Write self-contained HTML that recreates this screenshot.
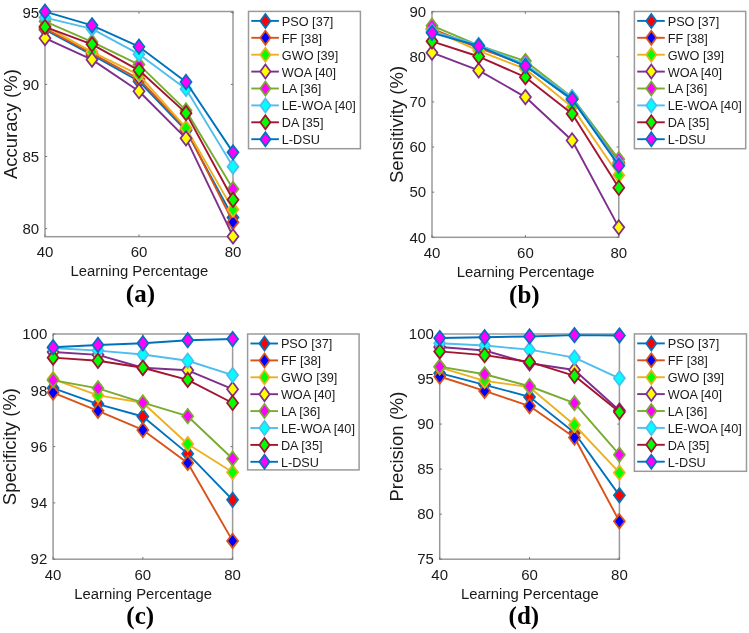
<!DOCTYPE html>
<html><head><meta charset="utf-8"><title>Performance comparison</title>
<style>
html,body{margin:0;padding:0;background:#fff;}
body{width:749px;height:633px;overflow:hidden;}
svg{display:block;will-change:transform;font-family:"Liberation Sans",sans-serif;}
</style></head><body>
<svg width="749" height="633" viewBox="0 0 749 633">
<rect width="749" height="633" fill="#fff"/>
<rect x="45" y="11.5" width="188" height="225.2" fill="none" stroke="#9a9a9a" stroke-width="1.5"/>
<path d="M45 228.63h2.2M233 228.63h-2.2M45 156.54h2.2M233 156.54h-2.2M45 84.45h2.2M233 84.45h-2.2M45 12.37h2.2M233 12.37h-2.2M45 236.7v-2.2M45 11.5v2.2M139 236.7v-2.2M139 11.5v2.2M233 236.7v-2.2M233 11.5v2.2" stroke="#777" stroke-width="1" fill="none"/>
<path d="M45 29.67L92 54.9L139 81.28L186 130.59L233 217.52" fill="none" stroke="#0072BD" stroke-width="1.9" stroke-linejoin="round"/>
<path d="M45 22.47L50.5 29.67L45 36.87L39.5 29.67Z" fill="#FF0000" stroke="#0072BD" stroke-width="1.75" stroke-linejoin="miter" stroke-miterlimit="10"/>
<path d="M92 47.7L97.5 54.9L92 62.1L86.5 54.9Z" fill="#FF0000" stroke="#0072BD" stroke-width="1.75" stroke-linejoin="miter" stroke-miterlimit="10"/>
<path d="M139 74.08L144.5 81.28L139 88.48L133.5 81.28Z" fill="#FF0000" stroke="#0072BD" stroke-width="1.75" stroke-linejoin="miter" stroke-miterlimit="10"/>
<path d="M186 123.39L191.5 130.59L186 137.79L180.5 130.59Z" fill="#FF0000" stroke="#0072BD" stroke-width="1.75" stroke-linejoin="miter" stroke-miterlimit="10"/>
<path d="M233 210.32L238.5 217.52L233 224.72L227.5 217.52Z" fill="#FF0000" stroke="#0072BD" stroke-width="1.75" stroke-linejoin="miter" stroke-miterlimit="10"/>
<path d="M45 28.51L92 53.45L139 78.97L186 129.15L233 222.14" fill="none" stroke="#D95319" stroke-width="1.9" stroke-linejoin="round"/>
<path d="M45 21.31L50.5 28.51L45 35.71L39.5 28.51Z" fill="#0000FF" stroke="#D95319" stroke-width="1.75" stroke-linejoin="miter" stroke-miterlimit="10"/>
<path d="M92 46.25L97.5 53.45L92 60.65L86.5 53.45Z" fill="#0000FF" stroke="#D95319" stroke-width="1.75" stroke-linejoin="miter" stroke-miterlimit="10"/>
<path d="M139 71.77L144.5 78.97L139 86.17L133.5 78.97Z" fill="#0000FF" stroke="#D95319" stroke-width="1.75" stroke-linejoin="miter" stroke-miterlimit="10"/>
<path d="M186 121.95L191.5 129.15L186 136.35L180.5 129.15Z" fill="#0000FF" stroke="#D95319" stroke-width="1.75" stroke-linejoin="miter" stroke-miterlimit="10"/>
<path d="M233 214.94L238.5 222.14L233 229.34L227.5 222.14Z" fill="#0000FF" stroke="#D95319" stroke-width="1.75" stroke-linejoin="miter" stroke-miterlimit="10"/>
<path d="M45 26.06L92 51.87L139 74.94L186 127.99L233 209.6" fill="none" stroke="#EDB120" stroke-width="1.9" stroke-linejoin="round"/>
<path d="M45 18.86L50.5 26.06L45 33.26L39.5 26.06Z" fill="#00FF00" stroke="#EDB120" stroke-width="1.75" stroke-linejoin="miter" stroke-miterlimit="10"/>
<path d="M92 44.67L97.5 51.87L92 59.07L86.5 51.87Z" fill="#00FF00" stroke="#EDB120" stroke-width="1.75" stroke-linejoin="miter" stroke-miterlimit="10"/>
<path d="M139 67.74L144.5 74.94L139 82.14L133.5 74.94Z" fill="#00FF00" stroke="#EDB120" stroke-width="1.75" stroke-linejoin="miter" stroke-miterlimit="10"/>
<path d="M186 120.79L191.5 127.99L186 135.19L180.5 127.99Z" fill="#00FF00" stroke="#EDB120" stroke-width="1.75" stroke-linejoin="miter" stroke-miterlimit="10"/>
<path d="M233 202.4L238.5 209.6L233 216.8L227.5 209.6Z" fill="#00FF00" stroke="#EDB120" stroke-width="1.75" stroke-linejoin="miter" stroke-miterlimit="10"/>
<path d="M45 38.17L92 59.65L139 91.23L186 138.37L233 236.41" fill="none" stroke="#7E2F8E" stroke-width="1.9" stroke-linejoin="round"/>
<path d="M45 30.97L50.5 38.17L45 45.37L39.5 38.17Z" fill="#FFFF00" stroke="#7E2F8E" stroke-width="1.75" stroke-linejoin="miter" stroke-miterlimit="10"/>
<path d="M92 52.45L97.5 59.65L92 66.85L86.5 59.65Z" fill="#FFFF00" stroke="#7E2F8E" stroke-width="1.75" stroke-linejoin="miter" stroke-miterlimit="10"/>
<path d="M139 84.03L144.5 91.23L139 98.43L133.5 91.23Z" fill="#FFFF00" stroke="#7E2F8E" stroke-width="1.75" stroke-linejoin="miter" stroke-miterlimit="10"/>
<path d="M186 131.17L191.5 138.37L186 145.57L180.5 138.37Z" fill="#FFFF00" stroke="#7E2F8E" stroke-width="1.75" stroke-linejoin="miter" stroke-miterlimit="10"/>
<path d="M233 229.21L238.5 236.41L233 243.61L227.5 236.41Z" fill="#FFFF00" stroke="#7E2F8E" stroke-width="1.75" stroke-linejoin="miter" stroke-miterlimit="10"/>
<path d="M45 21.3L92 41.92L139 64.56L186 110.4L233 188.98" fill="none" stroke="#77AC30" stroke-width="1.9" stroke-linejoin="round"/>
<path d="M45 14.1L50.5 21.3L45 28.5L39.5 21.3Z" fill="#FF00FF" stroke="#77AC30" stroke-width="1.75" stroke-linejoin="miter" stroke-miterlimit="10"/>
<path d="M92 34.72L97.5 41.92L92 49.12L86.5 41.92Z" fill="#FF00FF" stroke="#77AC30" stroke-width="1.75" stroke-linejoin="miter" stroke-miterlimit="10"/>
<path d="M139 57.36L144.5 64.56L139 71.76L133.5 64.56Z" fill="#FF00FF" stroke="#77AC30" stroke-width="1.75" stroke-linejoin="miter" stroke-miterlimit="10"/>
<path d="M186 103.2L191.5 110.4L186 117.6L180.5 110.4Z" fill="#FF00FF" stroke="#77AC30" stroke-width="1.75" stroke-linejoin="miter" stroke-miterlimit="10"/>
<path d="M233 181.78L238.5 188.98L233 196.18L227.5 188.98Z" fill="#FF00FF" stroke="#77AC30" stroke-width="1.75" stroke-linejoin="miter" stroke-miterlimit="10"/>
<path d="M45 17.56L92 28.95L139 54.18L186 88.92L233 166.63" fill="none" stroke="#4DBEEE" stroke-width="1.9" stroke-linejoin="round"/>
<path d="M45 10.36L50.5 17.56L45 24.76L39.5 17.56Z" fill="#00FFFF" stroke="#4DBEEE" stroke-width="1.75" stroke-linejoin="miter" stroke-miterlimit="10"/>
<path d="M92 21.75L97.5 28.95L92 36.15L86.5 28.95Z" fill="#00FFFF" stroke="#4DBEEE" stroke-width="1.75" stroke-linejoin="miter" stroke-miterlimit="10"/>
<path d="M139 46.98L144.5 54.18L139 61.38L133.5 54.18Z" fill="#00FFFF" stroke="#4DBEEE" stroke-width="1.75" stroke-linejoin="miter" stroke-miterlimit="10"/>
<path d="M186 81.72L191.5 88.92L186 96.12L180.5 88.92Z" fill="#00FFFF" stroke="#4DBEEE" stroke-width="1.75" stroke-linejoin="miter" stroke-miterlimit="10"/>
<path d="M233 159.43L238.5 166.63L233 173.83L227.5 166.63Z" fill="#00FFFF" stroke="#4DBEEE" stroke-width="1.75" stroke-linejoin="miter" stroke-miterlimit="10"/>
<path d="M45 26.93L92 44.37L139 70.32L186 113.14L233 199.79" fill="none" stroke="#A2142F" stroke-width="1.9" stroke-linejoin="round"/>
<path d="M45 19.73L50.5 26.93L45 34.13L39.5 26.93Z" fill="#00FF00" stroke="#A2142F" stroke-width="1.75" stroke-linejoin="miter" stroke-miterlimit="10"/>
<path d="M92 37.17L97.5 44.37L92 51.57L86.5 44.37Z" fill="#00FF00" stroke="#A2142F" stroke-width="1.75" stroke-linejoin="miter" stroke-miterlimit="10"/>
<path d="M139 63.12L144.5 70.32L139 77.52L133.5 70.32Z" fill="#00FF00" stroke="#A2142F" stroke-width="1.75" stroke-linejoin="miter" stroke-miterlimit="10"/>
<path d="M186 105.94L191.5 113.14L186 120.34L180.5 113.14Z" fill="#00FF00" stroke="#A2142F" stroke-width="1.75" stroke-linejoin="miter" stroke-miterlimit="10"/>
<path d="M233 192.59L238.5 199.79L233 206.99L227.5 199.79Z" fill="#00FF00" stroke="#A2142F" stroke-width="1.75" stroke-linejoin="miter" stroke-miterlimit="10"/>
<path d="M45 11.64L92 25.34L139 46.68L186 82L233 152.36" fill="none" stroke="#0072BD" stroke-width="1.9" stroke-linejoin="round"/>
<path d="M45 4.44L50.5 11.64L45 18.84L39.5 11.64Z" fill="#FF00FF" stroke="#0072BD" stroke-width="1.75" stroke-linejoin="miter" stroke-miterlimit="10"/>
<path d="M92 18.14L97.5 25.34L92 32.54L86.5 25.34Z" fill="#FF00FF" stroke="#0072BD" stroke-width="1.75" stroke-linejoin="miter" stroke-miterlimit="10"/>
<path d="M139 39.48L144.5 46.68L139 53.88L133.5 46.68Z" fill="#FF00FF" stroke="#0072BD" stroke-width="1.75" stroke-linejoin="miter" stroke-miterlimit="10"/>
<path d="M186 74.8L191.5 82L186 89.2L180.5 82Z" fill="#FF00FF" stroke="#0072BD" stroke-width="1.75" stroke-linejoin="miter" stroke-miterlimit="10"/>
<path d="M233 145.16L238.5 152.36L233 159.56L227.5 152.36Z" fill="#FF00FF" stroke="#0072BD" stroke-width="1.75" stroke-linejoin="miter" stroke-miterlimit="10"/>
<text x="39.2" y="228.33" text-anchor="end" dominant-baseline="central" font-size="15.0" fill="#1a1a1a">80</text>
<text x="39.2" y="156.24" text-anchor="end" dominant-baseline="central" font-size="15.0" fill="#1a1a1a">85</text>
<text x="39.2" y="84.15" text-anchor="end" dominant-baseline="central" font-size="15.0" fill="#1a1a1a">90</text>
<text x="39.2" y="12.07" text-anchor="end" dominant-baseline="central" font-size="15.0" fill="#1a1a1a">95</text>
<text x="45" y="257.2" text-anchor="middle" font-size="15.0" fill="#1a1a1a">40</text>
<text x="139" y="257.2" text-anchor="middle" font-size="15.0" fill="#1a1a1a">60</text>
<text x="233" y="257.2" text-anchor="middle" font-size="15.0" fill="#1a1a1a">80</text>
<text x="139.3" y="276.2" text-anchor="middle" font-size="14.85" fill="#1a1a1a">Learning Percentage</text>
<text transform="translate(17 124.1) rotate(-90)" text-anchor="middle" font-size="18.5" fill="#1a1a1a">Accuracy (%)</text>
<text x="140.4" y="302.3" text-anchor="middle" font-size="25" font-family="Liberation Serif, serif" font-weight="bold" fill="#000">(a)</text>
<rect x="248.5" y="11.4" width="111.9" height="137.3" fill="#fff" stroke="#9a9a9a" stroke-width="1.5"/>
<path d="M251.3 20.9H278.9" stroke="#0072BD" stroke-width="1.9"/>
<path d="M265.4 13.9L270.5 20.9L265.4 27.9L260.3 20.9Z" fill="#FF0000" stroke="#0072BD" stroke-width="1.75" stroke-linejoin="miter" stroke-miterlimit="10"/>
<text x="281.8" y="25.8" font-size="12.7" fill="#1a1a1a">PSO [37]</text>
<path d="M251.3 37.8H278.9" stroke="#D95319" stroke-width="1.9"/>
<path d="M265.4 30.8L270.5 37.8L265.4 44.8L260.3 37.8Z" fill="#0000FF" stroke="#D95319" stroke-width="1.75" stroke-linejoin="miter" stroke-miterlimit="10"/>
<text x="281.8" y="42.7" font-size="12.7" fill="#1a1a1a">FF [38]</text>
<path d="M251.3 54.7H278.9" stroke="#EDB120" stroke-width="1.9"/>
<path d="M265.4 47.7L270.5 54.7L265.4 61.7L260.3 54.7Z" fill="#00FF00" stroke="#EDB120" stroke-width="1.75" stroke-linejoin="miter" stroke-miterlimit="10"/>
<text x="281.8" y="59.6" font-size="12.7" fill="#1a1a1a">GWO [39]</text>
<path d="M251.3 71.6H278.9" stroke="#7E2F8E" stroke-width="1.9"/>
<path d="M265.4 64.6L270.5 71.6L265.4 78.6L260.3 71.6Z" fill="#FFFF00" stroke="#7E2F8E" stroke-width="1.75" stroke-linejoin="miter" stroke-miterlimit="10"/>
<text x="281.8" y="76.5" font-size="12.7" fill="#1a1a1a">WOA [40]</text>
<path d="M251.3 88.5H278.9" stroke="#77AC30" stroke-width="1.9"/>
<path d="M265.4 81.5L270.5 88.5L265.4 95.5L260.3 88.5Z" fill="#FF00FF" stroke="#77AC30" stroke-width="1.75" stroke-linejoin="miter" stroke-miterlimit="10"/>
<text x="281.8" y="93.4" font-size="12.7" fill="#1a1a1a">LA [36]</text>
<path d="M251.3 105.4H278.9" stroke="#4DBEEE" stroke-width="1.9"/>
<path d="M265.4 98.4L270.5 105.4L265.4 112.4L260.3 105.4Z" fill="#00FFFF" stroke="#4DBEEE" stroke-width="1.75" stroke-linejoin="miter" stroke-miterlimit="10"/>
<text x="281.8" y="110.3" font-size="12.7" fill="#1a1a1a">LE-WOA [40]</text>
<path d="M251.3 122.3H278.9" stroke="#A2142F" stroke-width="1.9"/>
<path d="M265.4 115.3L270.5 122.3L265.4 129.3L260.3 122.3Z" fill="#00FF00" stroke="#A2142F" stroke-width="1.75" stroke-linejoin="miter" stroke-miterlimit="10"/>
<text x="281.8" y="127.2" font-size="12.7" fill="#1a1a1a">DA [35]</text>
<path d="M251.3 139.2H278.9" stroke="#0072BD" stroke-width="1.9"/>
<path d="M265.4 132.2L270.5 139.2L265.4 146.2L260.3 139.2Z" fill="#FF00FF" stroke="#0072BD" stroke-width="1.75" stroke-linejoin="miter" stroke-miterlimit="10"/>
<text x="281.8" y="144.1" font-size="12.7" fill="#1a1a1a">L-DSU</text>
<rect x="432" y="11.6" width="186.8" height="225.7" fill="none" stroke="#9a9a9a" stroke-width="1.5"/>
<path d="M432 237.3h2.2M618.8 237.3h-2.2M432 192.16h2.2M618.8 192.16h-2.2M432 147.02h2.2M618.8 147.02h-2.2M432 101.88h2.2M618.8 101.88h-2.2M432 56.74h2.2M618.8 56.74h-2.2M432 11.6h2.2M618.8 11.6h-2.2M432 237.3v-2.2M432 11.6v2.2M525.4 237.3v-2.2M525.4 11.6v2.2M618.8 237.3v-2.2M618.8 11.6v2.2" stroke="#777" stroke-width="1" fill="none"/>
<path d="M432 29.66L478.7 46.81L525.4 65.77L572.1 99.62L618.8 163.72" fill="none" stroke="#0072BD" stroke-width="1.9" stroke-linejoin="round"/>
<path d="M432 22.46L437.5 29.66L432 36.86L426.5 29.66Z" fill="#FF0000" stroke="#0072BD" stroke-width="1.75" stroke-linejoin="miter" stroke-miterlimit="10"/>
<path d="M478.7 39.61L484.2 46.81L478.7 54.01L473.2 46.81Z" fill="#FF0000" stroke="#0072BD" stroke-width="1.75" stroke-linejoin="miter" stroke-miterlimit="10"/>
<path d="M525.4 58.57L530.9 65.77L525.4 72.97L519.9 65.77Z" fill="#FF0000" stroke="#0072BD" stroke-width="1.75" stroke-linejoin="miter" stroke-miterlimit="10"/>
<path d="M572.1 92.42L577.6 99.62L572.1 106.82L566.6 99.62Z" fill="#FF0000" stroke="#0072BD" stroke-width="1.75" stroke-linejoin="miter" stroke-miterlimit="10"/>
<path d="M618.8 156.52L624.3 163.72L618.8 170.92L613.3 163.72Z" fill="#FF0000" stroke="#0072BD" stroke-width="1.75" stroke-linejoin="miter" stroke-miterlimit="10"/>
<path d="M432 28.75L478.7 48.16L525.4 64.41L572.1 98.72L618.8 162.37" fill="none" stroke="#D95319" stroke-width="1.9" stroke-linejoin="round"/>
<path d="M432 21.55L437.5 28.75L432 35.95L426.5 28.75Z" fill="#0000FF" stroke="#D95319" stroke-width="1.75" stroke-linejoin="miter" stroke-miterlimit="10"/>
<path d="M478.7 40.96L484.2 48.16L478.7 55.36L473.2 48.16Z" fill="#0000FF" stroke="#D95319" stroke-width="1.75" stroke-linejoin="miter" stroke-miterlimit="10"/>
<path d="M525.4 57.21L530.9 64.41L525.4 71.61L519.9 64.41Z" fill="#0000FF" stroke="#D95319" stroke-width="1.75" stroke-linejoin="miter" stroke-miterlimit="10"/>
<path d="M572.1 91.52L577.6 98.72L572.1 105.92L566.6 98.72Z" fill="#0000FF" stroke="#D95319" stroke-width="1.75" stroke-linejoin="miter" stroke-miterlimit="10"/>
<path d="M618.8 155.17L624.3 162.37L618.8 169.57L613.3 162.37Z" fill="#0000FF" stroke="#D95319" stroke-width="1.75" stroke-linejoin="miter" stroke-miterlimit="10"/>
<path d="M432 29.66L478.7 50.87L525.4 68.93L572.1 107.07L618.8 175.19" fill="none" stroke="#EDB120" stroke-width="1.9" stroke-linejoin="round"/>
<path d="M432 22.46L437.5 29.66L432 36.86L426.5 29.66Z" fill="#00FF00" stroke="#EDB120" stroke-width="1.75" stroke-linejoin="miter" stroke-miterlimit="10"/>
<path d="M478.7 43.67L484.2 50.87L478.7 58.07L473.2 50.87Z" fill="#00FF00" stroke="#EDB120" stroke-width="1.75" stroke-linejoin="miter" stroke-miterlimit="10"/>
<path d="M525.4 61.73L530.9 68.93L525.4 76.13L519.9 68.93Z" fill="#00FF00" stroke="#EDB120" stroke-width="1.75" stroke-linejoin="miter" stroke-miterlimit="10"/>
<path d="M572.1 99.87L577.6 107.07L572.1 114.27L566.6 107.07Z" fill="#00FF00" stroke="#EDB120" stroke-width="1.75" stroke-linejoin="miter" stroke-miterlimit="10"/>
<path d="M618.8 167.99L624.3 175.19L618.8 182.39L613.3 175.19Z" fill="#00FF00" stroke="#EDB120" stroke-width="1.75" stroke-linejoin="miter" stroke-miterlimit="10"/>
<path d="M432 52.68L478.7 70.42L525.4 97.05L572.1 140.47L618.8 227.37" fill="none" stroke="#7E2F8E" stroke-width="1.9" stroke-linejoin="round"/>
<path d="M432 45.48L437.5 52.68L432 59.88L426.5 52.68Z" fill="#FFFF00" stroke="#7E2F8E" stroke-width="1.75" stroke-linejoin="miter" stroke-miterlimit="10"/>
<path d="M478.7 63.22L484.2 70.42L478.7 77.62L473.2 70.42Z" fill="#FFFF00" stroke="#7E2F8E" stroke-width="1.75" stroke-linejoin="miter" stroke-miterlimit="10"/>
<path d="M525.4 89.85L530.9 97.05L525.4 104.25L519.9 97.05Z" fill="#FFFF00" stroke="#7E2F8E" stroke-width="1.75" stroke-linejoin="miter" stroke-miterlimit="10"/>
<path d="M572.1 133.27L577.6 140.47L572.1 147.67L566.6 140.47Z" fill="#FFFF00" stroke="#7E2F8E" stroke-width="1.75" stroke-linejoin="miter" stroke-miterlimit="10"/>
<path d="M618.8 220.17L624.3 227.37L618.8 234.57L613.3 227.37Z" fill="#FFFF00" stroke="#7E2F8E" stroke-width="1.75" stroke-linejoin="miter" stroke-miterlimit="10"/>
<path d="M432 25.73L478.7 45.46L525.4 61.03L572.1 97.37L618.8 159.25" fill="none" stroke="#77AC30" stroke-width="1.9" stroke-linejoin="round"/>
<path d="M432 18.53L437.5 25.73L432 32.93L426.5 25.73Z" fill="#FF00FF" stroke="#77AC30" stroke-width="1.75" stroke-linejoin="miter" stroke-miterlimit="10"/>
<path d="M478.7 38.26L484.2 45.46L478.7 52.66L473.2 45.46Z" fill="#FF00FF" stroke="#77AC30" stroke-width="1.75" stroke-linejoin="miter" stroke-miterlimit="10"/>
<path d="M525.4 53.83L530.9 61.03L525.4 68.23L519.9 61.03Z" fill="#FF00FF" stroke="#77AC30" stroke-width="1.75" stroke-linejoin="miter" stroke-miterlimit="10"/>
<path d="M572.1 90.17L577.6 97.37L572.1 104.57L566.6 97.37Z" fill="#FF00FF" stroke="#77AC30" stroke-width="1.75" stroke-linejoin="miter" stroke-miterlimit="10"/>
<path d="M618.8 152.05L624.3 159.25L618.8 166.45L613.3 159.25Z" fill="#FF00FF" stroke="#77AC30" stroke-width="1.75" stroke-linejoin="miter" stroke-miterlimit="10"/>
<path d="M432 31.46L478.7 45L525.4 64.41L572.1 97.37L618.8 164.17" fill="none" stroke="#4DBEEE" stroke-width="1.9" stroke-linejoin="round"/>
<path d="M432 24.26L437.5 31.46L432 38.66L426.5 31.46Z" fill="#00FFFF" stroke="#4DBEEE" stroke-width="1.75" stroke-linejoin="miter" stroke-miterlimit="10"/>
<path d="M478.7 37.8L484.2 45L478.7 52.2L473.2 45Z" fill="#00FFFF" stroke="#4DBEEE" stroke-width="1.75" stroke-linejoin="miter" stroke-miterlimit="10"/>
<path d="M525.4 57.21L530.9 64.41L525.4 71.61L519.9 64.41Z" fill="#00FFFF" stroke="#4DBEEE" stroke-width="1.75" stroke-linejoin="miter" stroke-miterlimit="10"/>
<path d="M572.1 90.17L577.6 97.37L572.1 104.57L566.6 97.37Z" fill="#00FFFF" stroke="#4DBEEE" stroke-width="1.75" stroke-linejoin="miter" stroke-miterlimit="10"/>
<path d="M618.8 156.97L624.3 164.17L618.8 171.37L613.3 164.17Z" fill="#00FFFF" stroke="#4DBEEE" stroke-width="1.75" stroke-linejoin="miter" stroke-miterlimit="10"/>
<path d="M432 41.3L478.7 56.51L525.4 77.14L572.1 113.84L618.8 187.78" fill="none" stroke="#A2142F" stroke-width="1.9" stroke-linejoin="round"/>
<path d="M432 34.1L437.5 41.3L432 48.5L426.5 41.3Z" fill="#00FF00" stroke="#A2142F" stroke-width="1.75" stroke-linejoin="miter" stroke-miterlimit="10"/>
<path d="M478.7 49.31L484.2 56.51L478.7 63.71L473.2 56.51Z" fill="#00FF00" stroke="#A2142F" stroke-width="1.75" stroke-linejoin="miter" stroke-miterlimit="10"/>
<path d="M525.4 69.94L530.9 77.14L525.4 84.34L519.9 77.14Z" fill="#00FF00" stroke="#A2142F" stroke-width="1.75" stroke-linejoin="miter" stroke-miterlimit="10"/>
<path d="M572.1 106.64L577.6 113.84L572.1 121.04L566.6 113.84Z" fill="#00FF00" stroke="#A2142F" stroke-width="1.75" stroke-linejoin="miter" stroke-miterlimit="10"/>
<path d="M618.8 180.58L624.3 187.78L618.8 194.98L613.3 187.78Z" fill="#00FF00" stroke="#A2142F" stroke-width="1.75" stroke-linejoin="miter" stroke-miterlimit="10"/>
<path d="M432 32.82L478.7 46L525.4 66.04L572.1 99.17L618.8 165.66" fill="none" stroke="#0072BD" stroke-width="1.9" stroke-linejoin="round"/>
<path d="M432 25.62L437.5 32.82L432 40.02L426.5 32.82Z" fill="#FF00FF" stroke="#0072BD" stroke-width="1.75" stroke-linejoin="miter" stroke-miterlimit="10"/>
<path d="M478.7 38.8L484.2 46L478.7 53.2L473.2 46Z" fill="#FF00FF" stroke="#0072BD" stroke-width="1.75" stroke-linejoin="miter" stroke-miterlimit="10"/>
<path d="M525.4 58.84L530.9 66.04L525.4 73.24L519.9 66.04Z" fill="#FF00FF" stroke="#0072BD" stroke-width="1.75" stroke-linejoin="miter" stroke-miterlimit="10"/>
<path d="M572.1 91.97L577.6 99.17L572.1 106.37L566.6 99.17Z" fill="#FF00FF" stroke="#0072BD" stroke-width="1.75" stroke-linejoin="miter" stroke-miterlimit="10"/>
<path d="M618.8 158.46L624.3 165.66L618.8 172.86L613.3 165.66Z" fill="#FF00FF" stroke="#0072BD" stroke-width="1.75" stroke-linejoin="miter" stroke-miterlimit="10"/>
<text x="426.2" y="237" text-anchor="end" dominant-baseline="central" font-size="15.0" fill="#1a1a1a">40</text>
<text x="426.2" y="191.86" text-anchor="end" dominant-baseline="central" font-size="15.0" fill="#1a1a1a">50</text>
<text x="426.2" y="146.72" text-anchor="end" dominant-baseline="central" font-size="15.0" fill="#1a1a1a">60</text>
<text x="426.2" y="101.58" text-anchor="end" dominant-baseline="central" font-size="15.0" fill="#1a1a1a">70</text>
<text x="426.2" y="56.44" text-anchor="end" dominant-baseline="central" font-size="15.0" fill="#1a1a1a">80</text>
<text x="426.2" y="11.3" text-anchor="end" dominant-baseline="central" font-size="15.0" fill="#1a1a1a">90</text>
<text x="432" y="257.8" text-anchor="middle" font-size="15.0" fill="#1a1a1a">40</text>
<text x="525.4" y="257.8" text-anchor="middle" font-size="15.0" fill="#1a1a1a">60</text>
<text x="618.8" y="257.8" text-anchor="middle" font-size="15.0" fill="#1a1a1a">80</text>
<text x="525.7" y="276.8" text-anchor="middle" font-size="14.85" fill="#1a1a1a">Learning Percentage</text>
<text transform="translate(403.4 124.45) rotate(-90)" text-anchor="middle" font-size="18.5" fill="#1a1a1a">Sensitivity (%)</text>
<text x="524.4" y="302.7" text-anchor="middle" font-size="25" font-family="Liberation Serif, serif" font-weight="bold" fill="#000">(b)</text>
<rect x="634.4" y="11.4" width="111.3" height="137.3" fill="#fff" stroke="#9a9a9a" stroke-width="1.5"/>
<path d="M637.2 20.9H664.8" stroke="#0072BD" stroke-width="1.9"/>
<path d="M651.3 13.9L656.4 20.9L651.3 27.9L646.2 20.9Z" fill="#FF0000" stroke="#0072BD" stroke-width="1.75" stroke-linejoin="miter" stroke-miterlimit="10"/>
<text x="667.7" y="25.8" font-size="12.7" fill="#1a1a1a">PSO [37]</text>
<path d="M637.2 37.8H664.8" stroke="#D95319" stroke-width="1.9"/>
<path d="M651.3 30.8L656.4 37.8L651.3 44.8L646.2 37.8Z" fill="#0000FF" stroke="#D95319" stroke-width="1.75" stroke-linejoin="miter" stroke-miterlimit="10"/>
<text x="667.7" y="42.7" font-size="12.7" fill="#1a1a1a">FF [38]</text>
<path d="M637.2 54.7H664.8" stroke="#EDB120" stroke-width="1.9"/>
<path d="M651.3 47.7L656.4 54.7L651.3 61.7L646.2 54.7Z" fill="#00FF00" stroke="#EDB120" stroke-width="1.75" stroke-linejoin="miter" stroke-miterlimit="10"/>
<text x="667.7" y="59.6" font-size="12.7" fill="#1a1a1a">GWO [39]</text>
<path d="M637.2 71.6H664.8" stroke="#7E2F8E" stroke-width="1.9"/>
<path d="M651.3 64.6L656.4 71.6L651.3 78.6L646.2 71.6Z" fill="#FFFF00" stroke="#7E2F8E" stroke-width="1.75" stroke-linejoin="miter" stroke-miterlimit="10"/>
<text x="667.7" y="76.5" font-size="12.7" fill="#1a1a1a">WOA [40]</text>
<path d="M637.2 88.5H664.8" stroke="#77AC30" stroke-width="1.9"/>
<path d="M651.3 81.5L656.4 88.5L651.3 95.5L646.2 88.5Z" fill="#FF00FF" stroke="#77AC30" stroke-width="1.75" stroke-linejoin="miter" stroke-miterlimit="10"/>
<text x="667.7" y="93.4" font-size="12.7" fill="#1a1a1a">LA [36]</text>
<path d="M637.2 105.4H664.8" stroke="#4DBEEE" stroke-width="1.9"/>
<path d="M651.3 98.4L656.4 105.4L651.3 112.4L646.2 105.4Z" fill="#00FFFF" stroke="#4DBEEE" stroke-width="1.75" stroke-linejoin="miter" stroke-miterlimit="10"/>
<text x="667.7" y="110.3" font-size="12.7" fill="#1a1a1a">LE-WOA [40]</text>
<path d="M637.2 122.3H664.8" stroke="#A2142F" stroke-width="1.9"/>
<path d="M651.3 115.3L656.4 122.3L651.3 129.3L646.2 122.3Z" fill="#00FF00" stroke="#A2142F" stroke-width="1.75" stroke-linejoin="miter" stroke-miterlimit="10"/>
<text x="667.7" y="127.2" font-size="12.7" fill="#1a1a1a">DA [35]</text>
<path d="M637.2 139.2H664.8" stroke="#0072BD" stroke-width="1.9"/>
<path d="M651.3 132.2L656.4 139.2L651.3 146.2L646.2 139.2Z" fill="#FF00FF" stroke="#0072BD" stroke-width="1.75" stroke-linejoin="miter" stroke-miterlimit="10"/>
<text x="667.7" y="144.1" font-size="12.7" fill="#1a1a1a">L-DSU</text>
<rect x="53.1" y="334" width="179.5" height="225.2" fill="none" stroke="#9a9a9a" stroke-width="1.5"/>
<path d="M53.1 559.2h2.2M232.6 559.2h-2.2M53.1 502.9h2.2M232.6 502.9h-2.2M53.1 446.6h2.2M232.6 446.6h-2.2M53.1 390.3h2.2M232.6 390.3h-2.2M53.1 334h2.2M232.6 334h-2.2M53.1 559.2v-2.2M53.1 334v2.2M142.85 559.2v-2.2M142.85 334v2.2M232.6 559.2v-2.2M232.6 334v2.2" stroke="#777" stroke-width="1" fill="none"/>
<path d="M53.1 388.05L97.97 404.09L142.85 416.48L187.72 453.64L232.6 499.8" fill="none" stroke="#0072BD" stroke-width="1.9" stroke-linejoin="round"/>
<path d="M53.1 380.85L58.6 388.05L53.1 395.25L47.6 388.05Z" fill="#FF0000" stroke="#0072BD" stroke-width="1.75" stroke-linejoin="miter" stroke-miterlimit="10"/>
<path d="M97.97 396.89L103.47 404.09L97.97 411.29L92.47 404.09Z" fill="#FF0000" stroke="#0072BD" stroke-width="1.75" stroke-linejoin="miter" stroke-miterlimit="10"/>
<path d="M142.85 409.28L148.35 416.48L142.85 423.68L137.35 416.48Z" fill="#FF0000" stroke="#0072BD" stroke-width="1.75" stroke-linejoin="miter" stroke-miterlimit="10"/>
<path d="M187.72 446.44L193.22 453.64L187.72 460.84L182.22 453.64Z" fill="#FF0000" stroke="#0072BD" stroke-width="1.75" stroke-linejoin="miter" stroke-miterlimit="10"/>
<path d="M232.6 492.6L238.1 499.8L232.6 507L227.1 499.8Z" fill="#FF0000" stroke="#0072BD" stroke-width="1.75" stroke-linejoin="miter" stroke-miterlimit="10"/>
<path d="M53.1 392.55L97.97 410.85L142.85 429.99L187.72 462.93L232.6 540.9" fill="none" stroke="#D95319" stroke-width="1.9" stroke-linejoin="round"/>
<path d="M53.1 385.35L58.6 392.55L53.1 399.75L47.6 392.55Z" fill="#0000FF" stroke="#D95319" stroke-width="1.75" stroke-linejoin="miter" stroke-miterlimit="10"/>
<path d="M97.97 403.65L103.47 410.85L97.97 418.05L92.47 410.85Z" fill="#0000FF" stroke="#D95319" stroke-width="1.75" stroke-linejoin="miter" stroke-miterlimit="10"/>
<path d="M142.85 422.79L148.35 429.99L142.85 437.19L137.35 429.99Z" fill="#0000FF" stroke="#D95319" stroke-width="1.75" stroke-linejoin="miter" stroke-miterlimit="10"/>
<path d="M187.72 455.73L193.22 462.93L187.72 470.13L182.22 462.93Z" fill="#0000FF" stroke="#D95319" stroke-width="1.75" stroke-linejoin="miter" stroke-miterlimit="10"/>
<path d="M232.6 533.7L238.1 540.9L232.6 548.1L227.1 540.9Z" fill="#0000FF" stroke="#D95319" stroke-width="1.75" stroke-linejoin="miter" stroke-miterlimit="10"/>
<path d="M53.1 379.04L97.97 395.37L142.85 402.69L187.72 444.07L232.6 472.22" fill="none" stroke="#EDB120" stroke-width="1.9" stroke-linejoin="round"/>
<path d="M53.1 371.84L58.6 379.04L53.1 386.24L47.6 379.04Z" fill="#00FF00" stroke="#EDB120" stroke-width="1.75" stroke-linejoin="miter" stroke-miterlimit="10"/>
<path d="M97.97 388.17L103.47 395.37L97.97 402.57L92.47 395.37Z" fill="#00FF00" stroke="#EDB120" stroke-width="1.75" stroke-linejoin="miter" stroke-miterlimit="10"/>
<path d="M142.85 395.49L148.35 402.69L142.85 409.89L137.35 402.69Z" fill="#00FF00" stroke="#EDB120" stroke-width="1.75" stroke-linejoin="miter" stroke-miterlimit="10"/>
<path d="M187.72 436.87L193.22 444.07L187.72 451.27L182.22 444.07Z" fill="#00FF00" stroke="#EDB120" stroke-width="1.75" stroke-linejoin="miter" stroke-miterlimit="10"/>
<path d="M232.6 465.02L238.1 472.22L232.6 479.42L227.1 472.22Z" fill="#00FF00" stroke="#EDB120" stroke-width="1.75" stroke-linejoin="miter" stroke-miterlimit="10"/>
<path d="M53.1 352.02L97.97 354.83L142.85 367.78L187.72 370.31L232.6 389.17" fill="none" stroke="#7E2F8E" stroke-width="1.9" stroke-linejoin="round"/>
<path d="M53.1 344.82L58.6 352.02L53.1 359.22L47.6 352.02Z" fill="#FFFF00" stroke="#7E2F8E" stroke-width="1.75" stroke-linejoin="miter" stroke-miterlimit="10"/>
<path d="M97.97 347.63L103.47 354.83L97.97 362.03L92.47 354.83Z" fill="#FFFF00" stroke="#7E2F8E" stroke-width="1.75" stroke-linejoin="miter" stroke-miterlimit="10"/>
<path d="M142.85 360.58L148.35 367.78L142.85 374.98L137.35 367.78Z" fill="#FFFF00" stroke="#7E2F8E" stroke-width="1.75" stroke-linejoin="miter" stroke-miterlimit="10"/>
<path d="M187.72 363.11L193.22 370.31L187.72 377.51L182.22 370.31Z" fill="#FFFF00" stroke="#7E2F8E" stroke-width="1.75" stroke-linejoin="miter" stroke-miterlimit="10"/>
<path d="M232.6 381.97L238.1 389.17L232.6 396.37L227.1 389.17Z" fill="#FFFF00" stroke="#7E2F8E" stroke-width="1.75" stroke-linejoin="miter" stroke-miterlimit="10"/>
<path d="M53.1 380.17L97.97 388.33L142.85 402.69L187.72 416.2L232.6 458.7" fill="none" stroke="#77AC30" stroke-width="1.9" stroke-linejoin="round"/>
<path d="M53.1 372.97L58.6 380.17L53.1 387.37L47.6 380.17Z" fill="#FF00FF" stroke="#77AC30" stroke-width="1.75" stroke-linejoin="miter" stroke-miterlimit="10"/>
<path d="M97.97 381.13L103.47 388.33L97.97 395.53L92.47 388.33Z" fill="#FF00FF" stroke="#77AC30" stroke-width="1.75" stroke-linejoin="miter" stroke-miterlimit="10"/>
<path d="M142.85 395.49L148.35 402.69L142.85 409.89L137.35 402.69Z" fill="#FF00FF" stroke="#77AC30" stroke-width="1.75" stroke-linejoin="miter" stroke-miterlimit="10"/>
<path d="M187.72 409L193.22 416.2L187.72 423.4L182.22 416.2Z" fill="#FF00FF" stroke="#77AC30" stroke-width="1.75" stroke-linejoin="miter" stroke-miterlimit="10"/>
<path d="M232.6 451.5L238.1 458.7L232.6 465.9L227.1 458.7Z" fill="#FF00FF" stroke="#77AC30" stroke-width="1.75" stroke-linejoin="miter" stroke-miterlimit="10"/>
<path d="M53.1 348.07L97.97 350.61L142.85 354.55L187.72 360.74L232.6 375.1" fill="none" stroke="#4DBEEE" stroke-width="1.9" stroke-linejoin="round"/>
<path d="M53.1 340.88L58.6 348.07L53.1 355.27L47.6 348.07Z" fill="#00FFFF" stroke="#4DBEEE" stroke-width="1.75" stroke-linejoin="miter" stroke-miterlimit="10"/>
<path d="M97.97 343.41L103.47 350.61L97.97 357.81L92.47 350.61Z" fill="#00FFFF" stroke="#4DBEEE" stroke-width="1.75" stroke-linejoin="miter" stroke-miterlimit="10"/>
<path d="M142.85 347.35L148.35 354.55L142.85 361.75L137.35 354.55Z" fill="#00FFFF" stroke="#4DBEEE" stroke-width="1.75" stroke-linejoin="miter" stroke-miterlimit="10"/>
<path d="M187.72 353.54L193.22 360.74L187.72 367.94L182.22 360.74Z" fill="#00FFFF" stroke="#4DBEEE" stroke-width="1.75" stroke-linejoin="miter" stroke-miterlimit="10"/>
<path d="M232.6 367.9L238.1 375.1L232.6 382.3L227.1 375.1Z" fill="#00FFFF" stroke="#4DBEEE" stroke-width="1.75" stroke-linejoin="miter" stroke-miterlimit="10"/>
<path d="M53.1 357.65L97.97 360.74L142.85 367.78L187.72 379.88L232.6 402.97" fill="none" stroke="#A2142F" stroke-width="1.9" stroke-linejoin="round"/>
<path d="M53.1 350.45L58.6 357.65L53.1 364.85L47.6 357.65Z" fill="#00FF00" stroke="#A2142F" stroke-width="1.75" stroke-linejoin="miter" stroke-miterlimit="10"/>
<path d="M97.97 353.54L103.47 360.74L97.97 367.94L92.47 360.74Z" fill="#00FF00" stroke="#A2142F" stroke-width="1.75" stroke-linejoin="miter" stroke-miterlimit="10"/>
<path d="M142.85 360.58L148.35 367.78L142.85 374.98L137.35 367.78Z" fill="#00FF00" stroke="#A2142F" stroke-width="1.75" stroke-linejoin="miter" stroke-miterlimit="10"/>
<path d="M187.72 372.68L193.22 379.88L187.72 387.08L182.22 379.88Z" fill="#00FF00" stroke="#A2142F" stroke-width="1.75" stroke-linejoin="miter" stroke-miterlimit="10"/>
<path d="M232.6 395.77L238.1 402.97L232.6 410.17L227.1 402.97Z" fill="#00FF00" stroke="#A2142F" stroke-width="1.75" stroke-linejoin="miter" stroke-miterlimit="10"/>
<path d="M53.1 347.23L97.97 344.98L142.85 343.29L187.72 340.19L232.6 339.07" fill="none" stroke="#0072BD" stroke-width="1.9" stroke-linejoin="round"/>
<path d="M53.1 340.03L58.6 347.23L53.1 354.43L47.6 347.23Z" fill="#FF00FF" stroke="#0072BD" stroke-width="1.75" stroke-linejoin="miter" stroke-miterlimit="10"/>
<path d="M97.97 337.78L103.47 344.98L97.97 352.18L92.47 344.98Z" fill="#FF00FF" stroke="#0072BD" stroke-width="1.75" stroke-linejoin="miter" stroke-miterlimit="10"/>
<path d="M142.85 336.09L148.35 343.29L142.85 350.49L137.35 343.29Z" fill="#FF00FF" stroke="#0072BD" stroke-width="1.75" stroke-linejoin="miter" stroke-miterlimit="10"/>
<path d="M187.72 332.99L193.22 340.19L187.72 347.39L182.22 340.19Z" fill="#FF00FF" stroke="#0072BD" stroke-width="1.75" stroke-linejoin="miter" stroke-miterlimit="10"/>
<path d="M232.6 331.87L238.1 339.07L232.6 346.27L227.1 339.07Z" fill="#FF00FF" stroke="#0072BD" stroke-width="1.75" stroke-linejoin="miter" stroke-miterlimit="10"/>
<text x="47.3" y="558.9" text-anchor="end" dominant-baseline="central" font-size="15.0" fill="#1a1a1a">92</text>
<text x="47.3" y="502.6" text-anchor="end" dominant-baseline="central" font-size="15.0" fill="#1a1a1a">94</text>
<text x="47.3" y="446.3" text-anchor="end" dominant-baseline="central" font-size="15.0" fill="#1a1a1a">96</text>
<text x="47.3" y="390" text-anchor="end" dominant-baseline="central" font-size="15.0" fill="#1a1a1a">98</text>
<text x="47.3" y="333.7" text-anchor="end" dominant-baseline="central" font-size="15.0" fill="#1a1a1a">100</text>
<text x="53.1" y="579.7" text-anchor="middle" font-size="15.0" fill="#1a1a1a">40</text>
<text x="142.85" y="579.7" text-anchor="middle" font-size="15.0" fill="#1a1a1a">60</text>
<text x="232.6" y="579.7" text-anchor="middle" font-size="15.0" fill="#1a1a1a">80</text>
<text x="143.15" y="598.7" text-anchor="middle" font-size="14.85" fill="#1a1a1a">Learning Percentage</text>
<text transform="translate(16 446.6) rotate(-90)" text-anchor="middle" font-size="18.5" fill="#1a1a1a">Specificity (%)</text>
<text x="140.2" y="624" text-anchor="middle" font-size="25" font-family="Liberation Serif, serif" font-weight="bold" fill="#000">(c)</text>
<rect x="247.6" y="334" width="111.5" height="135.9" fill="#fff" stroke="#9a9a9a" stroke-width="1.5"/>
<path d="M250.4 343.5H278" stroke="#0072BD" stroke-width="1.9"/>
<path d="M264.5 336.5L269.6 343.5L264.5 350.5L259.4 343.5Z" fill="#FF0000" stroke="#0072BD" stroke-width="1.75" stroke-linejoin="miter" stroke-miterlimit="10"/>
<text x="280.9" y="348.4" font-size="12.7" fill="#1a1a1a">PSO [37]</text>
<path d="M250.4 360.4H278" stroke="#D95319" stroke-width="1.9"/>
<path d="M264.5 353.4L269.6 360.4L264.5 367.4L259.4 360.4Z" fill="#0000FF" stroke="#D95319" stroke-width="1.75" stroke-linejoin="miter" stroke-miterlimit="10"/>
<text x="280.9" y="365.3" font-size="12.7" fill="#1a1a1a">FF [38]</text>
<path d="M250.4 377.3H278" stroke="#EDB120" stroke-width="1.9"/>
<path d="M264.5 370.3L269.6 377.3L264.5 384.3L259.4 377.3Z" fill="#00FF00" stroke="#EDB120" stroke-width="1.75" stroke-linejoin="miter" stroke-miterlimit="10"/>
<text x="280.9" y="382.2" font-size="12.7" fill="#1a1a1a">GWO [39]</text>
<path d="M250.4 394.2H278" stroke="#7E2F8E" stroke-width="1.9"/>
<path d="M264.5 387.2L269.6 394.2L264.5 401.2L259.4 394.2Z" fill="#FFFF00" stroke="#7E2F8E" stroke-width="1.75" stroke-linejoin="miter" stroke-miterlimit="10"/>
<text x="280.9" y="399.1" font-size="12.7" fill="#1a1a1a">WOA [40]</text>
<path d="M250.4 411.1H278" stroke="#77AC30" stroke-width="1.9"/>
<path d="M264.5 404.1L269.6 411.1L264.5 418.1L259.4 411.1Z" fill="#FF00FF" stroke="#77AC30" stroke-width="1.75" stroke-linejoin="miter" stroke-miterlimit="10"/>
<text x="280.9" y="416" font-size="12.7" fill="#1a1a1a">LA [36]</text>
<path d="M250.4 428H278" stroke="#4DBEEE" stroke-width="1.9"/>
<path d="M264.5 421L269.6 428L264.5 435L259.4 428Z" fill="#00FFFF" stroke="#4DBEEE" stroke-width="1.75" stroke-linejoin="miter" stroke-miterlimit="10"/>
<text x="280.9" y="432.9" font-size="12.7" fill="#1a1a1a">LE-WOA [40]</text>
<path d="M250.4 444.9H278" stroke="#A2142F" stroke-width="1.9"/>
<path d="M264.5 437.9L269.6 444.9L264.5 451.9L259.4 444.9Z" fill="#00FF00" stroke="#A2142F" stroke-width="1.75" stroke-linejoin="miter" stroke-miterlimit="10"/>
<text x="280.9" y="449.8" font-size="12.7" fill="#1a1a1a">DA [35]</text>
<path d="M250.4 461.8H278" stroke="#0072BD" stroke-width="1.9"/>
<path d="M264.5 454.8L269.6 461.8L264.5 468.8L259.4 461.8Z" fill="#FF00FF" stroke="#0072BD" stroke-width="1.75" stroke-linejoin="miter" stroke-miterlimit="10"/>
<text x="280.9" y="466.7" font-size="12.7" fill="#1a1a1a">L-DSU</text>
<rect x="439.7" y="334" width="179.7" height="225.2" fill="none" stroke="#9a9a9a" stroke-width="1.5"/>
<path d="M439.7 559.2h2.2M619.4 559.2h-2.2M439.7 514.16h2.2M619.4 514.16h-2.2M439.7 469.12h2.2M619.4 469.12h-2.2M439.7 424.08h2.2M619.4 424.08h-2.2M439.7 379.04h2.2M619.4 379.04h-2.2M439.7 334h2.2M619.4 334h-2.2M439.7 559.2v-2.2M439.7 334v2.2M529.55 559.2v-2.2M529.55 334v2.2M619.4 559.2v-2.2M619.4 334v2.2" stroke="#777" stroke-width="1" fill="none"/>
<path d="M439.7 373.18L484.62 384.81L529.55 396.88L574.47 432.82L619.4 495.33" fill="none" stroke="#0072BD" stroke-width="1.9" stroke-linejoin="round"/>
<path d="M439.7 365.98L445.2 373.18L439.7 380.38L434.2 373.18Z" fill="#FF0000" stroke="#0072BD" stroke-width="1.75" stroke-linejoin="miter" stroke-miterlimit="10"/>
<path d="M484.62 377.61L490.12 384.81L484.62 392.01L479.12 384.81Z" fill="#FF0000" stroke="#0072BD" stroke-width="1.75" stroke-linejoin="miter" stroke-miterlimit="10"/>
<path d="M529.55 389.68L535.05 396.88L529.55 404.08L524.05 396.88Z" fill="#FF0000" stroke="#0072BD" stroke-width="1.75" stroke-linejoin="miter" stroke-miterlimit="10"/>
<path d="M574.47 425.62L579.97 432.82L574.47 440.02L568.97 432.82Z" fill="#FF0000" stroke="#0072BD" stroke-width="1.75" stroke-linejoin="miter" stroke-miterlimit="10"/>
<path d="M619.4 488.13L624.9 495.33L619.4 502.53L613.9 495.33Z" fill="#FF0000" stroke="#0072BD" stroke-width="1.75" stroke-linejoin="miter" stroke-miterlimit="10"/>
<path d="M439.7 376.52L484.62 390.93L529.55 406.06L574.47 437.5L619.4 521.37" fill="none" stroke="#D95319" stroke-width="1.9" stroke-linejoin="round"/>
<path d="M439.7 369.32L445.2 376.52L439.7 383.72L434.2 376.52Z" fill="#0000FF" stroke="#D95319" stroke-width="1.75" stroke-linejoin="miter" stroke-miterlimit="10"/>
<path d="M484.62 383.73L490.12 390.93L484.62 398.13L479.12 390.93Z" fill="#0000FF" stroke="#D95319" stroke-width="1.75" stroke-linejoin="miter" stroke-miterlimit="10"/>
<path d="M529.55 398.86L535.05 406.06L529.55 413.26L524.05 406.06Z" fill="#0000FF" stroke="#D95319" stroke-width="1.75" stroke-linejoin="miter" stroke-miterlimit="10"/>
<path d="M574.47 430.3L579.97 437.5L574.47 444.7L568.97 437.5Z" fill="#0000FF" stroke="#D95319" stroke-width="1.75" stroke-linejoin="miter" stroke-miterlimit="10"/>
<path d="M619.4 514.17L624.9 521.37L619.4 528.57L613.9 521.37Z" fill="#0000FF" stroke="#D95319" stroke-width="1.75" stroke-linejoin="miter" stroke-miterlimit="10"/>
<path d="M439.7 367.33L484.62 380.84L529.55 387.15L574.47 424.98L619.4 472.72" fill="none" stroke="#EDB120" stroke-width="1.9" stroke-linejoin="round"/>
<path d="M439.7 360.13L445.2 367.33L439.7 374.53L434.2 367.33Z" fill="#00FF00" stroke="#EDB120" stroke-width="1.75" stroke-linejoin="miter" stroke-miterlimit="10"/>
<path d="M484.62 373.64L490.12 380.84L484.62 388.04L479.12 380.84Z" fill="#00FF00" stroke="#EDB120" stroke-width="1.75" stroke-linejoin="miter" stroke-miterlimit="10"/>
<path d="M529.55 379.95L535.05 387.15L529.55 394.35L524.05 387.15Z" fill="#00FF00" stroke="#EDB120" stroke-width="1.75" stroke-linejoin="miter" stroke-miterlimit="10"/>
<path d="M574.47 417.78L579.97 424.98L574.47 432.18L568.97 424.98Z" fill="#00FF00" stroke="#EDB120" stroke-width="1.75" stroke-linejoin="miter" stroke-miterlimit="10"/>
<path d="M619.4 465.52L624.9 472.72L619.4 479.92L613.9 472.72Z" fill="#00FF00" stroke="#EDB120" stroke-width="1.75" stroke-linejoin="miter" stroke-miterlimit="10"/>
<path d="M439.7 347.06L484.62 350.48L529.55 363.28L574.47 370.03L619.4 410.57" fill="none" stroke="#7E2F8E" stroke-width="1.9" stroke-linejoin="round"/>
<path d="M439.7 339.86L445.2 347.06L439.7 354.26L434.2 347.06Z" fill="#FFFF00" stroke="#7E2F8E" stroke-width="1.75" stroke-linejoin="miter" stroke-miterlimit="10"/>
<path d="M484.62 343.28L490.12 350.48L484.62 357.68L479.12 350.48Z" fill="#FFFF00" stroke="#7E2F8E" stroke-width="1.75" stroke-linejoin="miter" stroke-miterlimit="10"/>
<path d="M529.55 356.08L535.05 363.28L529.55 370.48L524.05 363.28Z" fill="#FFFF00" stroke="#7E2F8E" stroke-width="1.75" stroke-linejoin="miter" stroke-miterlimit="10"/>
<path d="M574.47 362.83L579.97 370.03L574.47 377.23L568.97 370.03Z" fill="#FFFF00" stroke="#7E2F8E" stroke-width="1.75" stroke-linejoin="miter" stroke-miterlimit="10"/>
<path d="M619.4 403.37L624.9 410.57L619.4 417.77L613.9 410.57Z" fill="#FFFF00" stroke="#7E2F8E" stroke-width="1.75" stroke-linejoin="miter" stroke-miterlimit="10"/>
<path d="M439.7 366.61L484.62 374.27L529.55 386.25L574.47 403.18L619.4 454.71" fill="none" stroke="#77AC30" stroke-width="1.9" stroke-linejoin="round"/>
<path d="M439.7 359.41L445.2 366.61L439.7 373.81L434.2 366.61Z" fill="#FF00FF" stroke="#77AC30" stroke-width="1.75" stroke-linejoin="miter" stroke-miterlimit="10"/>
<path d="M484.62 367.07L490.12 374.27L484.62 381.47L479.12 374.27Z" fill="#FF00FF" stroke="#77AC30" stroke-width="1.75" stroke-linejoin="miter" stroke-miterlimit="10"/>
<path d="M529.55 379.05L535.05 386.25L529.55 393.45L524.05 386.25Z" fill="#FF00FF" stroke="#77AC30" stroke-width="1.75" stroke-linejoin="miter" stroke-miterlimit="10"/>
<path d="M574.47 395.98L579.97 403.18L574.47 410.38L568.97 403.18Z" fill="#FF00FF" stroke="#77AC30" stroke-width="1.75" stroke-linejoin="miter" stroke-miterlimit="10"/>
<path d="M619.4 447.51L624.9 454.71L619.4 461.91L613.9 454.71Z" fill="#FF00FF" stroke="#77AC30" stroke-width="1.75" stroke-linejoin="miter" stroke-miterlimit="10"/>
<path d="M439.7 343.28L484.62 345.53L529.55 349.67L574.47 357.6L619.4 378.32" fill="none" stroke="#4DBEEE" stroke-width="1.9" stroke-linejoin="round"/>
<path d="M439.7 336.08L445.2 343.28L439.7 350.48L434.2 343.28Z" fill="#00FFFF" stroke="#4DBEEE" stroke-width="1.75" stroke-linejoin="miter" stroke-miterlimit="10"/>
<path d="M484.62 338.33L490.12 345.53L484.62 352.73L479.12 345.53Z" fill="#00FFFF" stroke="#4DBEEE" stroke-width="1.75" stroke-linejoin="miter" stroke-miterlimit="10"/>
<path d="M529.55 342.47L535.05 349.67L529.55 356.87L524.05 349.67Z" fill="#00FFFF" stroke="#4DBEEE" stroke-width="1.75" stroke-linejoin="miter" stroke-miterlimit="10"/>
<path d="M574.47 350.4L579.97 357.6L574.47 364.8L568.97 357.6Z" fill="#00FFFF" stroke="#4DBEEE" stroke-width="1.75" stroke-linejoin="miter" stroke-miterlimit="10"/>
<path d="M619.4 371.12L624.9 378.32L619.4 385.52L613.9 378.32Z" fill="#00FFFF" stroke="#4DBEEE" stroke-width="1.75" stroke-linejoin="miter" stroke-miterlimit="10"/>
<path d="M439.7 351.39L484.62 355.17L529.55 361.92L574.47 375.8L619.4 412.1" fill="none" stroke="#A2142F" stroke-width="1.9" stroke-linejoin="round"/>
<path d="M439.7 344.19L445.2 351.39L439.7 358.59L434.2 351.39Z" fill="#00FF00" stroke="#A2142F" stroke-width="1.75" stroke-linejoin="miter" stroke-miterlimit="10"/>
<path d="M484.62 347.97L490.12 355.17L484.62 362.37L479.12 355.17Z" fill="#00FF00" stroke="#A2142F" stroke-width="1.75" stroke-linejoin="miter" stroke-miterlimit="10"/>
<path d="M529.55 354.72L535.05 361.92L529.55 369.12L524.05 361.92Z" fill="#00FF00" stroke="#A2142F" stroke-width="1.75" stroke-linejoin="miter" stroke-miterlimit="10"/>
<path d="M574.47 368.6L579.97 375.8L574.47 383L568.97 375.8Z" fill="#00FF00" stroke="#A2142F" stroke-width="1.75" stroke-linejoin="miter" stroke-miterlimit="10"/>
<path d="M619.4 404.9L624.9 412.1L619.4 419.3L613.9 412.1Z" fill="#00FF00" stroke="#A2142F" stroke-width="1.75" stroke-linejoin="miter" stroke-miterlimit="10"/>
<path d="M439.7 338.05L484.62 337.24L529.55 336.43L574.47 335.17L619.4 335.53" fill="none" stroke="#0072BD" stroke-width="1.9" stroke-linejoin="round"/>
<path d="M439.7 330.85L445.2 338.05L439.7 345.25L434.2 338.05Z" fill="#FF00FF" stroke="#0072BD" stroke-width="1.75" stroke-linejoin="miter" stroke-miterlimit="10"/>
<path d="M484.62 330.04L490.12 337.24L484.62 344.44L479.12 337.24Z" fill="#FF00FF" stroke="#0072BD" stroke-width="1.75" stroke-linejoin="miter" stroke-miterlimit="10"/>
<path d="M529.55 329.23L535.05 336.43L529.55 343.63L524.05 336.43Z" fill="#FF00FF" stroke="#0072BD" stroke-width="1.75" stroke-linejoin="miter" stroke-miterlimit="10"/>
<path d="M574.47 327.97L579.97 335.17L574.47 342.37L568.97 335.17Z" fill="#FF00FF" stroke="#0072BD" stroke-width="1.75" stroke-linejoin="miter" stroke-miterlimit="10"/>
<path d="M619.4 328.33L624.9 335.53L619.4 342.73L613.9 335.53Z" fill="#FF00FF" stroke="#0072BD" stroke-width="1.75" stroke-linejoin="miter" stroke-miterlimit="10"/>
<text x="433.9" y="558.9" text-anchor="end" dominant-baseline="central" font-size="15.0" fill="#1a1a1a">75</text>
<text x="433.9" y="513.86" text-anchor="end" dominant-baseline="central" font-size="15.0" fill="#1a1a1a">80</text>
<text x="433.9" y="468.82" text-anchor="end" dominant-baseline="central" font-size="15.0" fill="#1a1a1a">85</text>
<text x="433.9" y="423.78" text-anchor="end" dominant-baseline="central" font-size="15.0" fill="#1a1a1a">90</text>
<text x="433.9" y="378.74" text-anchor="end" dominant-baseline="central" font-size="15.0" fill="#1a1a1a">95</text>
<text x="433.9" y="333.7" text-anchor="end" dominant-baseline="central" font-size="15.0" fill="#1a1a1a">100</text>
<text x="439.7" y="579.7" text-anchor="middle" font-size="15.0" fill="#1a1a1a">40</text>
<text x="529.55" y="579.7" text-anchor="middle" font-size="15.0" fill="#1a1a1a">60</text>
<text x="619.4" y="579.7" text-anchor="middle" font-size="15.0" fill="#1a1a1a">80</text>
<text x="529.85" y="598.7" text-anchor="middle" font-size="14.85" fill="#1a1a1a">Learning Percentage</text>
<text transform="translate(403 446.6) rotate(-90)" text-anchor="middle" font-size="18.5" fill="#1a1a1a">Precision (%)</text>
<text x="523.9" y="623.8" text-anchor="middle" font-size="25" font-family="Liberation Serif, serif" font-weight="bold" fill="#000">(d)</text>
<rect x="634.4" y="333.9" width="112.1" height="137.4" fill="#fff" stroke="#9a9a9a" stroke-width="1.5"/>
<path d="M637.2 343.4H664.8" stroke="#0072BD" stroke-width="1.9"/>
<path d="M651.3 336.4L656.4 343.4L651.3 350.4L646.2 343.4Z" fill="#FF0000" stroke="#0072BD" stroke-width="1.75" stroke-linejoin="miter" stroke-miterlimit="10"/>
<text x="667.7" y="348.3" font-size="12.7" fill="#1a1a1a">PSO [37]</text>
<path d="M637.2 360.3H664.8" stroke="#D95319" stroke-width="1.9"/>
<path d="M651.3 353.3L656.4 360.3L651.3 367.3L646.2 360.3Z" fill="#0000FF" stroke="#D95319" stroke-width="1.75" stroke-linejoin="miter" stroke-miterlimit="10"/>
<text x="667.7" y="365.2" font-size="12.7" fill="#1a1a1a">FF [38]</text>
<path d="M637.2 377.2H664.8" stroke="#EDB120" stroke-width="1.9"/>
<path d="M651.3 370.2L656.4 377.2L651.3 384.2L646.2 377.2Z" fill="#00FF00" stroke="#EDB120" stroke-width="1.75" stroke-linejoin="miter" stroke-miterlimit="10"/>
<text x="667.7" y="382.1" font-size="12.7" fill="#1a1a1a">GWO [39]</text>
<path d="M637.2 394.1H664.8" stroke="#7E2F8E" stroke-width="1.9"/>
<path d="M651.3 387.1L656.4 394.1L651.3 401.1L646.2 394.1Z" fill="#FFFF00" stroke="#7E2F8E" stroke-width="1.75" stroke-linejoin="miter" stroke-miterlimit="10"/>
<text x="667.7" y="399" font-size="12.7" fill="#1a1a1a">WOA [40]</text>
<path d="M637.2 411H664.8" stroke="#77AC30" stroke-width="1.9"/>
<path d="M651.3 404L656.4 411L651.3 418L646.2 411Z" fill="#FF00FF" stroke="#77AC30" stroke-width="1.75" stroke-linejoin="miter" stroke-miterlimit="10"/>
<text x="667.7" y="415.9" font-size="12.7" fill="#1a1a1a">LA [36]</text>
<path d="M637.2 427.9H664.8" stroke="#4DBEEE" stroke-width="1.9"/>
<path d="M651.3 420.9L656.4 427.9L651.3 434.9L646.2 427.9Z" fill="#00FFFF" stroke="#4DBEEE" stroke-width="1.75" stroke-linejoin="miter" stroke-miterlimit="10"/>
<text x="667.7" y="432.8" font-size="12.7" fill="#1a1a1a">LE-WOA [40]</text>
<path d="M637.2 444.8H664.8" stroke="#A2142F" stroke-width="1.9"/>
<path d="M651.3 437.8L656.4 444.8L651.3 451.8L646.2 444.8Z" fill="#00FF00" stroke="#A2142F" stroke-width="1.75" stroke-linejoin="miter" stroke-miterlimit="10"/>
<text x="667.7" y="449.7" font-size="12.7" fill="#1a1a1a">DA [35]</text>
<path d="M637.2 461.7H664.8" stroke="#0072BD" stroke-width="1.9"/>
<path d="M651.3 454.7L656.4 461.7L651.3 468.7L646.2 461.7Z" fill="#FF00FF" stroke="#0072BD" stroke-width="1.75" stroke-linejoin="miter" stroke-miterlimit="10"/>
<text x="667.7" y="466.6" font-size="12.7" fill="#1a1a1a">L-DSU</text>
</svg>
</body></html>
